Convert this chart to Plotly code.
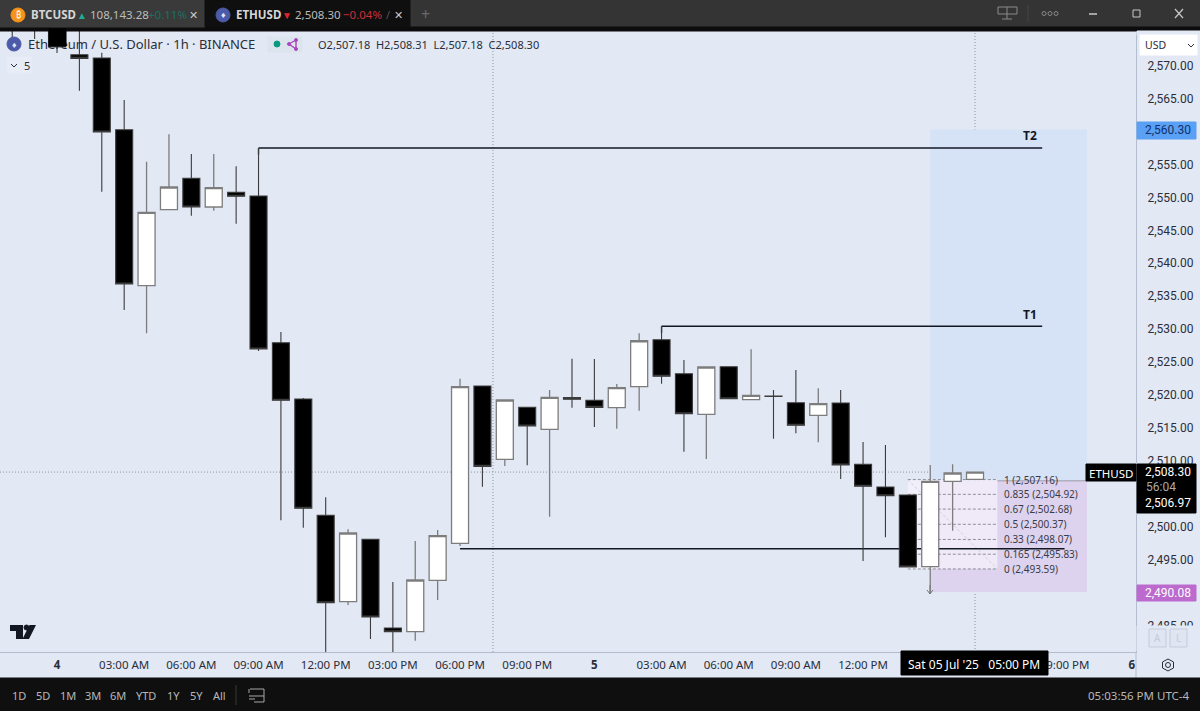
import pandas as pd
import plotly.graph_objects as go

# ETHUSD 1h candles, first bar 3 Jul 22:00
opens = [2580.0, 2580.0, 2578.0, 2571.67, 2571.17, 2560.28, 2536.6, 2548.14, 2552.9, 2548.55, 2550.78,
         2550.22, 2527.94, 2519.39, 2501.73, 2488.62, 2498.09, 2484.62, 2484.06, 2491.87, 2497.48,
         2521.37, 2510.24, 2518.13, 2514.79, 2519.6, 2519.2, 2518.07, 2521.26, 2528.4, 2523.23,
         2517.07, 2524.3, 2519.29, 2519.85, 2518.83, 2516.92, 2518.79, 2509.48, 2506.03, 2504.82,
         2493.93, 2506.9, 2507.18]
highs = [2584.0, 2584.0, 2582.0, 2576.0, 2571.97, 2564.79, 2555.42, 2559.58, 2556.59, 2556.59, 2554.73,
         2557.5, 2529.57, 2519.55, 2504.47, 2499.61, 2498.09, 2491.61, 2497.83, 2499.5, 2522.47,
         2521.4, 2519.3, 2518.2, 2520.76, 2525.51, 2525.47, 2521.67, 2529.37, 2530.43, 2525.31,
         2524.3, 2524.3, 2526.94, 2520.76, 2523.8, 2521.02, 2520.76, 2512.86, 2512.41, 2504.82,
         2509.37, 2509.48, 2508.31]
lows = [2574.05, 2574.05, 2571.93, 2566.2, 2550.87, 2532.91, 2529.37, 2548.1, 2547.22, 2547.98, 2546.01,
        2526.68, 2500.97, 2499.85, 2480.0, 2488.11, 2482.95, 2480.5, 2482.69, 2488.87, 2497.07,
        2506.08, 2509.22, 2509.33, 2501.52, 2518.07, 2515.14, 2514.88, 2517.62, 2521.72, 2511.39,
        2510.28, 2519.44, 2519.2, 2513.36, 2514.18, 2512.82, 2507.25, 2494.8, 2498.39, 2493.88,
        2489.78, 2499.4, 2507.18]
closes = [2577.0, 2577.0, 2572.84, 2571.12, 2559.93, 2536.85, 2547.74, 2551.58, 2548.55, 2551.48, 2550.17,
          2526.98, 2519.2, 2502.8, 2488.46, 2499.05, 2486.29, 2484.06, 2491.91, 2498.64, 2521.26,
          2509.17, 2519.24, 2515.29, 2519.65, 2519.35, 2518.13, 2521.11, 2528.24, 2522.84, 2517.16,
          2524.25, 2519.44, 2519.95, 2519.8, 2515.4, 2518.68, 2509.37, 2506.14, 2504.71, 2493.88,
          2506.9, 2508.16, 2508.30]
times = pd.date_range("2025-07-03 22:00", periods=len(opens), freq="h")

tick_hours = [0, 3, 6, 9, 12, 15, 18, 21, 24, 27, 30, 33, 36, 39, 42, 45, 48]
tick_text = ["<b>4</b>", "03:00 AM", "06:00 AM", "09:00 AM", "12:00 PM", "03:00 PM", "06:00 PM", "09:00 PM",
             "<b>5</b>", "03:00 AM", "06:00 AM", "09:00 AM", "12:00 PM", "03:00 PM", "06:00 PM", "09:00 PM",
             "<b>6</b>"]

fib_ratios = ["1", "0.835", "0.67", "0.5", "0.33", "0.165", "0"]
fib_prices = [2507.16, 2504.92, 2502.68, 2500.37, 2498.07, 2495.83, 2493.59]

last_price = 2508.30
entry_price = 2506.97
target_price = 2560.30
stop_price = 2490.08
t2_level = 2557.5
t1_level = 2530.43
low_level = 2496.66

W, H = 1200, 711
BG = "#E2E8F4"
FONT = "Noto Sans"
PRICE_FONT = "Roboto"


def t(hour):
    return pd.Timestamp("2025-07-04") + pd.Timedelta(hours=hour)


def fx(x):
    return x / W


def fy(y):
    return 1 - y / H


shapes = []
annotations = []


def label(x, y, text, size=12, color="#131722", anchor="left", family=FONT):
    annotations.append(dict(xref="paper", yref="paper", x=fx(x), y=fy(y), text=text, showarrow=False,
                            xanchor=anchor, yanchor="middle", font=dict(family=family, size=size, color=color)))


def box(x0, y0, x1, y1, fill, line=None, kind="rect"):
    shapes.append(dict(type=kind, xref="paper", yref="paper", x0=fx(x0), x1=fx(x1), y0=fy(y0), y1=fy(y1),
                       fillcolor=fill, line=dict(color=line or fill, width=1), layer="above"))


def poly(points, fill=None, line=None, width=1, close=False):
    d = "M" + " L".join(f"{fx(a):.5f},{fy(b):.5f}" for a, b in points) + (" Z" if close else "")
    shapes.append(dict(type="path", xref="paper", yref="paper", path=d, fillcolor=fill or "rgba(0,0,0,0)",
                       line=dict(color=line or "rgba(0,0,0,0)", width=width), layer="above"))


def zone(h0, h1, p0, p1, fill):
    shapes.append(dict(type="rect", x0=t(h0), x1=t(h1), y0=p0, y1=p1, fillcolor=fill, line_width=0, layer="below"))


def level(h0, h1, p, color="#131722", width=1.6, dash="solid"):
    shapes.append(dict(type="line", x0=t(h0), x1=t(h1), y0=p, y1=p, line=dict(color=color, width=width, dash=dash),
                       layer="below"))


# position tool and fib box
zone(39, 46, entry_price, target_price, "#D6E2F5")
zone(39, 46, stop_price, entry_price, "#DDD3EE")
zone(38, 42, fib_prices[-1], fib_prices[0], "rgba(246,241,251,0.75)")
for p in fib_prices:
    level(38, 42, p, "#77777f", 0.8, "3px,2px")
shapes.append(dict(type="line", x0=t(38), x1=t(42), y0=fib_prices[0], y1=fib_prices[-1],
                   line=dict(color="#c4c4d2", width=0.8, dash="3px,2px"), layer="below"))
level(42, 46, entry_price, "#8a8a94", 0.8)

# crosshair and session line
shapes.append(dict(type="line", xref="paper", x0=0, x1=1136 / W, y0=last_price, y1=last_price,
                   line=dict(color="#7c808c", width=0.8, dash="1px,2px"), layer="below"))
for h in [19.47, 41]:
    shapes.append(dict(type="line", yref="paper", x0=t(h), x1=t(h), y0=fy(652), y1=fy(31),
                       line=dict(color="#7c808c", width=0.8, dash="1px,2px"), layer="below"))

level(9, 44, t2_level)
level(27, 44, t1_level)
level(18, 45, low_level)
shapes.append(dict(type="line", x0=t(9), x1=t(9), y0=t2_level - 1, y1=t2_level, line=dict(color="#333", width=1.4),
                   layer="below"))
shapes.append(dict(type="line", x0=t(27), x1=t(27), y0=t1_level - 1, y1=t1_level, line=dict(color="#333", width=1.4),
                   layer="below"))

fig = go.Figure(go.Candlestick(
    x=times, open=opens, high=highs, low=lows, close=closes, whiskerwidth=0,
    increasing=dict(line=dict(color="#7d7d7d", width=1.3), fillcolor="#FFFFFF"),
    decreasing=dict(line=dict(color="#3c3c3c", width=1.1), fillcolor="#000000"),
    hoverinfo="skip",
))

# top window bar
box(0, 0, W, 27, "#343434")
box(0, 27, W, 31, "#0c0c0c")
box(0, 0, 205, 27, "#3a3a3a")
box(205, 0, 410, 27, "#0f0f0f")
box(11, 8, 25, 22, "#F7931A", kind="circle")
label(18, 15, "₿", 9, "#FFFFFF", "center")
label(29, 15, "<b>BTCUSD</b>", 11.5, "#d6d6d6")
label(75, 15, "▲", 10, "#22ab94")
label(88, 15, "108,143.28", 11.5, "#bdbdbd")
label(146, 15, "+0.11%", 11.5, "#1c6f62")
label(193, 15, "✕", 11, "#c8c8c8", "center")
box(216, 8, 230, 22, "#4c5aa8", kind="circle")
label(223, 15, "♦", 9, "#dfe6ff", "center")
label(234, 15, "<b>ETHUSD</b>", 11.5, "#d6d6d6")
label(280, 15, "▼", 10, "#e0252f")
label(293, 15, "2,508.30", 11.5, "#bdbdbd")
label(341, 15, "−0.04%", 11.5, "#c9303a")
label(384, 15, "/", 11, "#555555")
label(398, 15, "✕", 11, "#c8c8c8", "center")
label(425, 14, "+", 16, "#6a6a6a", "center")
# window buttons
poly([(998, 7), (1017, 7), (1017, 14), (998, 14)], line="#8a8a8a", close=True)
poly([(1007, 7), (1007, 19)], line="#8a8a8a")
poly([(1002, 19), (1012, 19)], line="#8a8a8a")
poly([(1028, 5), (1028, 22)], line="#454545")
for cx in [1044, 1050, 1056]:
    box(cx - 2, 11.5, cx + 2, 15.5, "rgba(0,0,0,0)", "#8a8a8a", kind="circle")
poly([(1089, 14), (1097, 14)], line="#c8c8c8", width=1.5)
box(1133, 10, 1140, 17, "rgba(0,0,0,0)", "#c8c8c8")
poly([(1175, 9), (1183, 18)], line="#c8c8c8", width=1.2)
poly([(1183, 9), (1175, 18)], line="#c8c8c8", width=1.2)

# legend row
box(7, 37, 21, 51, "#4c5aa8", kind="circle")
label(14, 44, "♦", 9, "#dfe6ff", "center")
label(26, 44, "Ethereum / U.S. Dollar · 1h · BINANCE", 13, "#2a2e39")
box(268, 37, 302, 52, "#DCE4EE")
box(274, 41, 280, 47, "#089981", kind="circle")
poly([(296, 40), (289, 44), (296, 49)], line="#ab47bc", width=1.4)
poly([(296, 40), (296, 49)], line="#ab47bc", width=1.4)
for cx, cy in [(296, 40), (289, 44), (296, 49)]:
    box(cx - 1.5, cy - 1.5, cx + 1.5, cy + 1.5, "#ab47bc", kind="circle")
label(316, 44, "O2,507.18  H2,508.31  L2,507.18  C2,508.30", 11, "#2a2e39")
box(7, 57, 31, 73, "#E7ECF6")
poly([(11, 64), (14, 67), (17, 64)], line="#2a2e39", width=1)
label(22, 65, "5", 11, "#2a2e39")

# candle that sits over the legend text
annotations.append(dict(xref="x", yref="y", x=times[2], y=closes[2], yanchor="bottom", text=" ", width=17, height=17,
                        showarrow=False, bgcolor="#000000", borderpad=0))

label(1030, 136, "<b>T2</b>", 12, "#131722", "center")
label(1030, 315, "<b>T1</b>", 12, "#131722", "center")
for ratio, p in zip(fib_ratios, fib_prices):
    annotations.append(dict(x=t(42.2), y=p, text=f"{ratio} ({p:,.2f})", showarrow=False, xanchor="left",
                            font=dict(family=FONT, size=10, color="#3a3a46")))
poly([(927, 590), (930, 594), (933, 590)], line="#777777")
poly([(930, 585), (930, 594)], line="#777777")

# price scale extras
box(1137, 31, W, 35, BG)
box(1140, 35, 1197, 55, "#FFFFFF")
label(1143, 45, "USD", 10.5, "#2a2e39")
poly([(1188, 44), (1191, 47), (1194, 44)], line="#2a2e39")
box(1086, 464, 1136, 481, "#000000")
label(1111, 473, "ETHUSD", 11.5, "#FFFFFF", "center")
box(1137, 464, 1196, 513, "#000000")
label(1168, 472, "2,508.30", 12, "#FFFFFF", "center", PRICE_FONT)
label(1161, 487, "56:04", 12, "#aaaaaa", "center", PRICE_FONT)
label(1168, 503, "2,506.97", 12, "#FFFFFF", "center", PRICE_FONT)
box(1137, 122, 1196, 139, "#5AA0F5")
label(1168, 130, "2,560.30", 12, "#10306a", "center", PRICE_FONT)
box(1137, 585, 1196, 601, "#BC6ACE")
label(1168, 593, "2,490.08", 12, "#FFFFFF", "center", PRICE_FONT)
box(1137, 626, 1199, 651, BG)
box(1149, 629, 1166, 647, "#DFE5F1", "#C5CCDA")
box(1170, 629, 1187, 647, "#DFE5F1", "#C5CCDA")
label(1157.5, 638, "A", 10, "#C5CCDA", "center")
label(1178.5, 638, "L", 10, "#C5CCDA", "center")
poly([(1168, 659), (1173.5, 662), (1173.5, 668), (1168, 671), (1162.5, 668), (1162.5, 662)], line="#2a2e39", close=True)
box(1165.5, 662.5, 1170.5, 667.5, "rgba(0,0,0,0)", "#2a2e39", kind="circle")
poly([(1136, 652), (1136, 678)], line="#B4BDCD")

# time crosshair tag
box(901, 651, 1048, 675, "#000000")
label(974, 664, "Sat 05 Jul '25   05:00 PM", 12, "#FFFFFF", "center")

# bottom bar
box(0, 678, W, 711, "#0f0f0f")
for x, txt in zip([19, 43, 68, 93, 118, 146, 173, 196, 220], ["1D", "5D", "1M", "3M", "6M", "YTD", "1Y", "5Y", "All"]):
    label(x, 695, txt, 11, "#b8b8b8", "center")
poly([(236, 685), (236, 705)], line="#3a3a3a")
poly([(250, 689), (264, 689), (264, 702), (254, 702)], line="#a8a8a8")
poly([(249, 696), (264, 696)], line="#a8a8a8")
poly([(249, 689), (249, 693)], line="#a8a8a8")
poly([(249, 699), (255, 699)], line="#a8a8a8")
label(1192, 695, "05:03:56 PM UTC-4", 11.5, "#b8b8b8", "right")

# TradingView mark
poly([(10, 625), (23, 625), (23, 639), (16, 639), (16, 631), (10, 631)], fill="#131722", close=True)
box(24, 625, 29, 630, "#131722", kind="circle")
poly([(29.5, 625), (36, 625), (29, 639), (22.5, 639)], fill="#131722", close=True)

fig.update_layout(
    width=W, height=H, margin=dict(l=0, r=0, t=0, b=0), paper_bgcolor=BG, plot_bgcolor=BG, showlegend=False,
    boxgap=0.24, boxgroupgap=0,
    font=dict(family=FONT, size=12, color="#131722"), shapes=shapes, annotations=annotations,
    xaxis=dict(domain=[0, 1136 / W], range=[t(-2.546), t(48.19)], type="date", rangeslider=dict(visible=False),
               automargin=False, showgrid=False, zeroline=False, tickmode="array", tickvals=[t(h) for h in tick_hours],
               ticktext=tick_text, ticks="outside", ticklen=2, tickcolor="rgba(0,0,0,0)", showline=True,
               linecolor="#B4BDCD", tickfont=dict(family=FONT, size=11.5, color="#2a2e39")),
    yaxis=dict(domain=[fy(652), fy(31)], range=[2480.98, 2575.27], side="right", automargin=False, showgrid=False,
               zeroline=False, dtick=5, tick0=2500, tickformat=",.2f", ticks="outside", ticklen=8,
               tickcolor="rgba(0,0,0,0)", showline=True, linecolor="#B4BDCD",
               tickfont=dict(family=PRICE_FONT, size=12, color="#2a2e39")),
)

# the page's default body margin would push the figure off the window
fig.write_html("out.html", config=dict(displayModeBar=False),
               post_script="document.body.style.margin='0';document.body.style.overflow='hidden';")
